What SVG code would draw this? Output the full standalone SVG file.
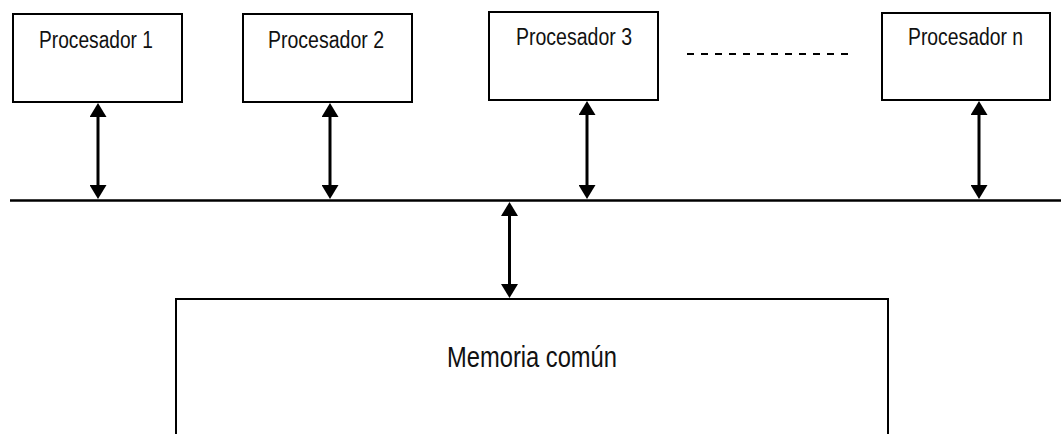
<svg xmlns="http://www.w3.org/2000/svg" width="1061" height="434" viewBox="0 0 1061 434">
<style>
.box{fill:#fff;stroke:#000;stroke-width:2}
.lbl{font-family:"Liberation Sans",Arial,sans-serif;font-size:23px;fill:#111}
.big{font-size:29px}
.conn{stroke:#000;stroke-width:3;fill:none;marker-start:url(#ah);marker-end:url(#ah)}
.bus{stroke:#000;stroke-width:2.5;fill:none}
.dash{stroke:#000;stroke-width:2;stroke-dasharray:7 7;fill:none}
</style>
<defs>
<marker id="ah" markerUnits="userSpaceOnUse" viewBox="0 0 14 17" refX="4" refY="8.5" markerWidth="14" markerHeight="17" orient="auto-start-reverse">
<path d="M0,0 L14,8.5 L0,17 z" fill="#000"/>
</marker>
</defs>
<rect width="1061" height="434" fill="#fff"/>
<g id="proc1"><rect class="box" x="13" y="14" width="169" height="88"/><text class="lbl" x="39" y="48" textLength="114" lengthAdjust="spacingAndGlyphs">Procesador 1</text></g>
<g id="proc2"><rect class="box" x="243" y="14" width="169" height="88"/><text class="lbl" x="268" y="48" textLength="116" lengthAdjust="spacingAndGlyphs">Procesador 2</text></g>
<g id="proc3"><rect class="box" x="489" y="12" width="169" height="88"/><text class="lbl" x="516" y="45" textLength="116" lengthAdjust="spacingAndGlyphs">Procesador 3</text></g>
<g id="procn"><rect class="box" x="882" y="13" width="168" height="87"/><text class="lbl" x="908" y="45" textLength="115" lengthAdjust="spacingAndGlyphs">Procesador n</text></g>
<g id="memoria"><path class="box" d="M176,434 V299 H888 V434"/><text class="lbl big" x="447" y="366.5" textLength="170" lengthAdjust="spacingAndGlyphs">Memoria común</text></g>
<g id="ellipsis"><line class="dash" x1="687" y1="54" x2="848" y2="54"/></g>
<g id="connectors">
<line class="bus" x1="10" y1="200.5" x2="1061" y2="200.5"/>
<line class="conn" x1="98" y1="113" x2="98" y2="189"/>
<line class="conn" x1="330" y1="113" x2="330" y2="189"/>
<line class="conn" x1="587" y1="111" x2="587" y2="189"/>
<line class="conn" x1="979" y1="111" x2="979" y2="189"/>
<line class="conn" x1="509.5" y1="212" x2="509.5" y2="288"/>
</g>
</svg>
